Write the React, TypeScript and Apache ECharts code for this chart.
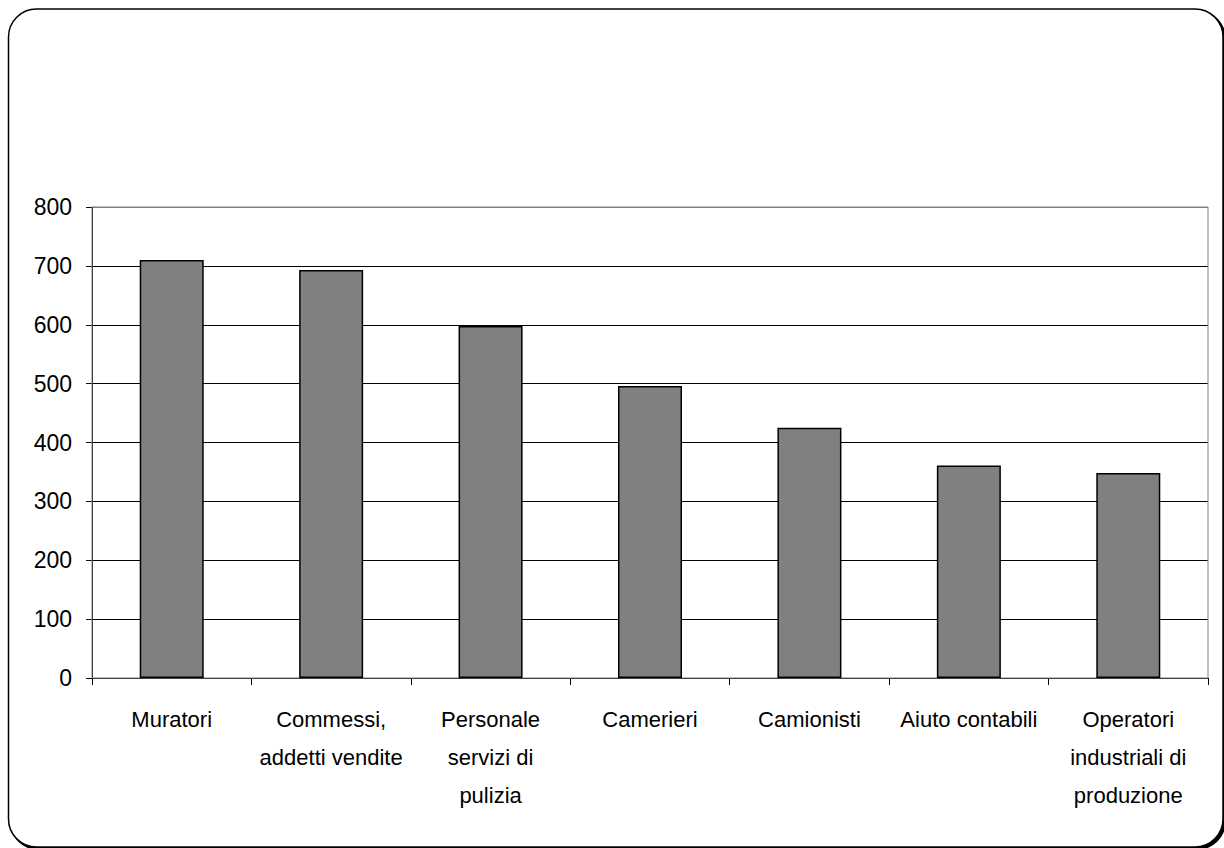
import React, { useEffect, useRef } from "react";
import * as echarts from "echarts";

const categories: string[] = [
  "Muratori",
  "Commessi,\naddetti vendite",
  "Personale\nservizi di\npulizia",
  "Camerieri",
  "Camionisti",
  "Aiuto contabili",
  "Operatori\nindustriali di\nproduzione",
];
const values: number[] = [710, 693, 598, 496, 425, 361, 348];
const yMin = 0;
const yMax = 800;
const yStep = 100;

const FONT = "'Liberation Sans', Arial, sans-serif";

export default function App() {
  const ref = useRef<HTMLDivElement>(null);
  useEffect(() => {
    if (!ref.current) return;
    const chart = echarts.init(ref.current, undefined, { renderer: "svg" });
    const splitColors: string[] = [];
    for (let v = yMin; v <= yMax; v += yStep) splitColors.push(v === yMax ? "#808080" : "#000000");
    chart.setOption({
      animation: false,
      backgroundColor: "#ffffff",
      graphic: {
        z: -10,
        elements: [
          {
            type: "rect",
            z: -10,
            shape: { x: 10.5, y: 11, width: 1214.5, height: 838, r: 28 },
            style: { fill: "#000", stroke: "#000", lineWidth: 2 },
          },
          {
            type: "rect",
            z: -9,
            shape: { x: 8.5, y: 9, width: 1214.5, height: 838, r: 28 },
            style: { fill: "#fff", stroke: "#000", lineWidth: 1.5 },
          },
        ],
      },
      grid: {
        left: 92,
        right: 16,
        top: 207,
        bottom: 170,
        show: true,
        borderColor: "#808080",
        borderWidth: 1,
        backgroundColor: "transparent",
        z: 1,
      },
      xAxis: {
        type: "category",
        data: categories,
        boundaryGap: true,
        axisLine: { show: true, lineStyle: { color: "#000", width: 1 } },
        axisTick: { show: true, length: 7, interval: 0, alignWithLabel: false, lineStyle: { color: "#000" } },
        axisLabel: {
          interval: 0,
          margin: 22,
          color: "#000",
          fontSize: 22,
          lineHeight: 38,
          fontFamily: FONT,
        },
        splitLine: { show: false },
      },
      yAxis: {
        type: "value",
        min: yMin,
        max: yMax,
        interval: yStep,
        axisLine: { show: true, lineStyle: { color: "#000", width: 1 } },
        axisTick: { show: true, length: 6, lineStyle: { color: "#000" } },
        axisLabel: { margin: 20, color: "#000", fontSize: 23, fontFamily: FONT },
        splitLine: { show: true, lineStyle: { color: splitColors, width: 1 } },
      },
      series: [
        {
          type: "bar",
          data: values,
          barWidth: 64,
          itemStyle: { color: "#808080", borderColor: "#000", borderWidth: 1.5 },
          z: 3,
        },
      ],
    });
    return () => chart.dispose();
  }, []);
  return (
    <div
      ref={ref}
      style={{ position: "fixed", left: 0, top: 0, width: 1224, height: 848 }}
    />
  );
}
